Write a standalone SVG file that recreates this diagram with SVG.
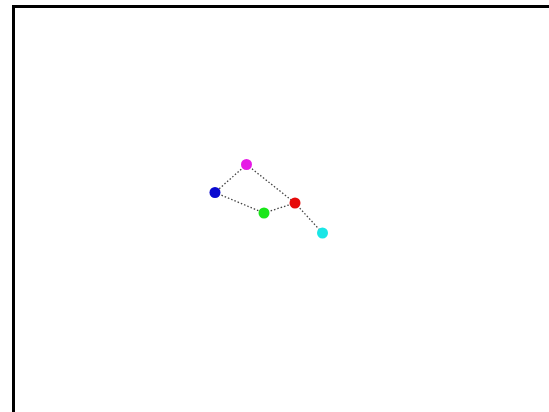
<svg xmlns="http://www.w3.org/2000/svg" width="549" height="412" viewBox="0 0 549 412">
<style>
.edge{stroke:#444;stroke-width:1.3;stroke-dasharray:1.5 2;fill:none}
.frame{stroke:#000;stroke-width:3;fill:none}
</style>
<rect width="549" height="412" fill="#fff"/>
<path class="frame" d="M13.5 412 V6.5 H549"/>
<g id="connectors">
<line class="edge" x1="246.5" y1="164.5" x2="215" y2="192.5"/>
<line class="edge" x1="246.5" y1="164.5" x2="295" y2="203"/>
<line class="edge" x1="215" y1="192.5" x2="264" y2="213"/>
<line class="edge" x1="264" y1="213" x2="295" y2="203"/>
<line class="edge" x1="295" y1="203" x2="322.5" y2="233"/>
</g>
<g id="n-magenta"><circle cx="246.5" cy="164.5" r="5.5" fill="#e619e6"/></g>
<g id="n-blue"><circle cx="215" cy="192.5" r="5.5" fill="#0a0ad0"/></g>
<g id="n-green"><circle cx="264" cy="213" r="5.5" fill="#19e619"/></g>
<g id="n-red"><circle cx="295" cy="203" r="5.5" fill="#e60a0a"/></g>
<g id="n-cyan"><circle cx="322.5" cy="233" r="5.5" fill="#19e6e6"/></g>
</svg>
